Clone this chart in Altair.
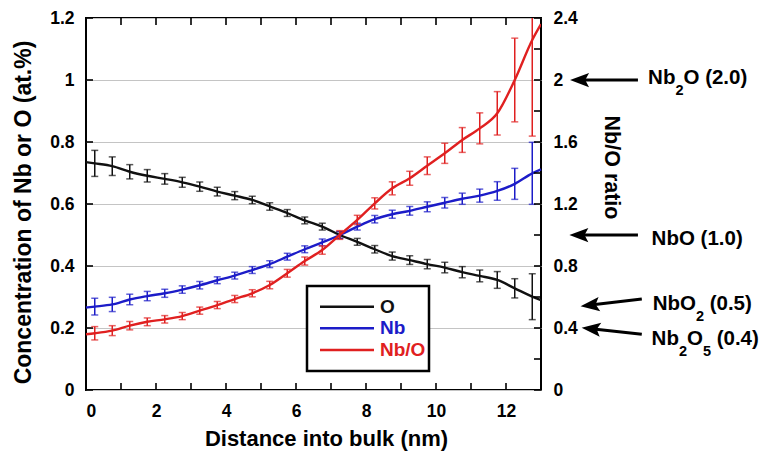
import math
import altair as alt
import pandas as pd

# ---------------- data ----------------
x_pts = [0.25, 0.75, 1.25, 1.75, 2.25, 2.75, 3.25, 3.75, 4.25, 4.75, 5.25, 5.75, 6.25,
         6.75, 7.25, 7.75, 8.25, 8.75, 9.25, 9.75, 10.25, 10.75, 11.25, 11.75, 12.25, 12.75]
o_val = [0.731, 0.722, 0.704, 0.691, 0.681, 0.670, 0.656, 0.640, 0.627, 0.613, 0.592, 0.571, 0.547,
         0.527, 0.500, 0.478, 0.454, 0.432, 0.419, 0.406, 0.395, 0.380, 0.368, 0.355, 0.328, 0.301]
o_err = [0.042, 0.030, 0.023, 0.020, 0.017, 0.016, 0.015, 0.014, 0.013, 0.012, 0.012, 0.011, 0.011,
         0.011, 0.011, 0.011, 0.012, 0.013, 0.014, 0.015, 0.017, 0.018, 0.019, 0.027, 0.031, 0.074]
nb_val = [0.269, 0.276, 0.292, 0.303, 0.312, 0.324, 0.338, 0.354, 0.369, 0.387, 0.406, 0.430, 0.454,
          0.476, 0.500, 0.527, 0.551, 0.567, 0.578, 0.591, 0.604, 0.617, 0.627, 0.642, 0.665, 0.699]
nb_err = [0.027, 0.023, 0.017, 0.015, 0.013, 0.012, 0.012, 0.011, 0.011, 0.011, 0.011, 0.011, 0.011,
          0.011, 0.011, 0.011, 0.012, 0.013, 0.014, 0.016, 0.017, 0.018, 0.021, 0.030, 0.050, 0.100]
ratio_val = [0.366, 0.383, 0.415, 0.440, 0.456, 0.477, 0.512, 0.548, 0.587, 0.624, 0.677, 0.753, 0.832,
             0.903, 1.000, 1.097, 1.204, 1.301, 1.366, 1.447, 1.527, 1.613, 1.688, 1.785, 2.000, 2.258]
ratio_err = [0.043, 0.032, 0.027, 0.025, 0.024, 0.023, 0.023, 0.023, 0.023, 0.023, 0.024, 0.025, 0.026,
             0.027, 0.028, 0.030, 0.036, 0.042, 0.045, 0.057, 0.065, 0.080, 0.100, 0.140, 0.270, 0.620]

# fitted curves run from the left edge to the right edge of the plot
x_edges = [0.0, 13.0]
o_edges = [0.735, 0.290]
nb_edges = [0.266, 0.712]
ratio_edges = [0.360, 2.360]

series_names = ["O", "Nb", "Nb/O"]
series_colors = ["#111111", "#1c1cc8", "#e02020"]

x_label_vals = [0, 2, 4, 6, 8, 10, 12]
x_tick_vals = list(range(0, 14))
left_label_vals = [0, 0.2, 0.4, 0.6, 0.8, 1.0, 1.2]
right_label_vals = [0, 0.4, 0.8, 1.2, 1.6, 2.0, 2.4]
right_tick_vals = [0, 0.2, 0.4, 0.6, 0.8, 1.0, 1.2, 1.4, 1.6, 1.8, 2.0, 2.2, 2.4]

# annotations (ratio values on the right axis)
ann_pieces = [
    [("Nb", 0, 0), ("2", 1, 0), ("O (2.0)", 0, 0)],
    [("NbO (1.0)", 0, 0)],
    [("NbO", 0, 0), ("2", 1, 0), ("(0.5)", 0, 1)],
    [("Nb", 0, 0), ("2", 1, 0), ("O", 0, 0), ("5", 1, 0), ("(0.4)", 0, 1)],
]
ann_x0 = [16.06, 16.16, 16.19, 16.16]
ann_base = [1.974, 0.935, 0.519, 0.290]
arrow_tip_x = [13.83, 13.81, 14.13, 14.16]
arrow_tip_y = [2.0, 1.0, 0.54, 0.402]
arrow_tail_x = [15.77, 15.77, 15.88, 15.88]
arrow_tail_y = [2.0, 1.0, 0.587, 0.359]

# ---------------- layout / style ----------------
W, H = 455, 372
PX_X = W / 13.0          # pixels per x unit
PX_R = H / 2.4           # pixels per ratio unit
FONT = "Liberation Sans"
MAIN_FS, SUB_FS = 20.5, 14.5
SUB_DROP = 11 / PX_R

xscale = alt.Scale(domain=[0, 13], nice=False, zero=False)
yL = alt.Scale(domain=[0, 1.2], nice=False)
yR = alt.Scale(domain=[0, 2.4], nice=False)

lab = dict(labelFont=FONT, labelFontSize=17.5, labelFontWeight="bold", labelColor="black",
           titleFont=FONT, titleFontWeight="bold", titleColor="black",
           ticks=False, tickSize=0, domain=False, labelPadding=12)

x_axis = alt.Axis(values=x_label_vals, format="~g", title="Distance into bulk (nm)", grid=False,
                  titleFontSize=22, titleX=240, titleY=48, titleBaseline="middle", **lab)
left_axis = alt.Axis(values=left_label_vals, format="~g", title="Concentration of Nb or O (at.%)",
                     grid=True, gridColor="#c4c4c4", gridWidth=1, orient="left",
                     titleFontSize=23, titleX=-63, titleY=194, titleBaseline="middle", **lab)
right_axis = alt.Axis(values=right_label_vals, format="~g", title="Nb/O ratio", orient="right",
                      grid=False, titleFontSize=21.5, titleX=69, titleY=149, titleBaseline="middle", **lab)


def X(field):
    return alt.X(field, type="quantitative", scale=xscale, axis=x_axis)


def YL(field):
    return alt.Y(field, type="quantitative", scale=yL, axis=left_axis)


def YR(field):
    return alt.Y(field, type="quantitative", scale=yR, axis=right_axis)


# ---------------- tables ----------------
rows_line, rows_pts = [], []
for name, vals, errs, edges in [("O", o_val, o_err, o_edges), ("Nb", nb_val, nb_err, nb_edges)]:
    xs = [x_edges[0]] + x_pts + [x_edges[1]]
    vs = [edges[0]] + vals + [edges[1]]
    for xv, v in zip(xs, vs):
        rows_line.append({"x": xv, "v": v, "s": name})
    for xv, v, e in zip(x_pts, vals, errs):
        rows_pts.append({"x": xv, "v": v, "lo": v - e, "hi": v + e, "s": name})
df_line_left = pd.DataFrame(rows_line)
df_pts_left = pd.DataFrame(rows_pts)

df_line_r = pd.DataFrame({"x": [x_edges[0]] + x_pts + [x_edges[1]],
                          "v": [ratio_edges[0]] + ratio_val + [ratio_edges[1]]})
df_pts_r = pd.DataFrame({"x": x_pts, "v": ratio_val,
                         "lo": [v - e for v, e in zip(ratio_val, ratio_err)],
                         "hi": [v + e for v, e in zip(ratio_val, ratio_err)]})

df_xt = pd.DataFrame({"x": x_tick_vals})
df_lt = pd.DataFrame({"v": left_label_vals})
df_rt = pd.DataFrame({"v": right_tick_vals})

# Arial-bold advance widths (em) for placing sub-scripts
adv = {"N": .722, "b": .611, "O": .778, " ": .278, "(": .333, ")": .333, ".": .278}


def width(txt, fs):
    return sum(adv.get(c, .556) for c in txt) * fs


ann_rows = []
for pieces, x0, base in zip(ann_pieces, ann_x0, ann_base):
    off = 0.0
    for txt, sub, space in pieces:
        fs = SUB_FS if sub else MAIN_FS
        if space:
            off += adv[" "] * MAIN_FS
        ann_rows.append({"x": x0 + off / PX_X, "v": base - (SUB_DROP if sub else 0), "text": txt, "size": fs})
        off += width(txt, fs)
df_ann = pd.DataFrame(ann_rows)

arrow_rows = []
for tx, ty, lx, ly in zip(arrow_tip_x, arrow_tip_y, arrow_tail_x, arrow_tail_y):
    dxp = (tx - lx) * PX_X
    dyp = -(ty - ly) * PX_R
    ang = math.degrees(math.atan2(-dyp, -dxp)) % 360
    arrow_rows.append({"x": tx, "v": ty, "sx": tx + 0.2 * (lx - tx), "sv": ty + 0.2 * (ly - ty),
                       "lx": lx, "lv": ly, "ang": ang})
df_arrow = pd.DataFrame(arrow_rows)

legend_y = [288.7, 310.3, 332.0]
df_leg = pd.DataFrame({"label": series_names, "color": series_colors, "ly": legend_y})
df_box = pd.DataFrame({"k": [0]})

# ---------------- left (concentration) layers ----------------
cL = alt.Color("s:N", scale=alt.Scale(domain=series_names[:2], range=series_colors[:2]), legend=None)

line_left = alt.Chart(df_line_left).mark_line(strokeWidth=2.4, interpolate="monotone").encode(
    x=X("x"), y=YL("v"), color=cL)
err_left = alt.Chart(df_pts_left).mark_rule(strokeWidth=1.5).encode(
    x=X("x"), y=YL("lo"), y2="hi:Q", color=cL)
caps_left = alt.Chart(df_pts_left).transform_fold(["lo", "hi"], as_=["k", "e"]).mark_tick(
    orient="horizontal", size=7, thickness=1.5).encode(
    x=X("x"), y=YL("e"), color=cL)
xt_bottom = alt.Chart(df_xt).mark_rule(color="black", strokeWidth=1.6).encode(
    x=X("x"), y=alt.value(H), y2=alt.value(H - 7))
xt_top = alt.Chart(df_xt).mark_rule(color="black", strokeWidth=1.6).encode(
    x=X("x"), y=alt.value(0), y2=alt.value(7))
yt_left = alt.Chart(df_lt).mark_rule(color="black", strokeWidth=1.6).encode(
    y=YL("v"), x=alt.value(0), x2=alt.value(7))

left = alt.layer(line_left, err_left, caps_left, xt_bottom, xt_top, yt_left)

# ---------------- right (ratio) layers ----------------
red = series_colors[2]
line_r = alt.Chart(df_line_r).mark_line(strokeWidth=2.4, interpolate="monotone", color=red, clip=True).encode(
    x=X("x"), y=YR("v"))
err_r = alt.Chart(df_pts_r).mark_rule(strokeWidth=1.5, color=red, clip=True).encode(
    x=X("x"), y=YR("lo"), y2="hi:Q")
caps_r = alt.Chart(df_pts_r).transform_fold(["lo", "hi"], as_=["k", "e"]).mark_tick(
    orient="horizontal", size=7, thickness=1.5, color=red, clip=True).encode(
    x=X("x"), y=YR("e"))
yt_right = alt.Chart(df_rt).mark_rule(color="black", strokeWidth=1.6).encode(
    y=YR("v"), x=alt.value(W), x2=alt.value(W - 7))
ann_text = alt.Chart(df_ann).mark_text(align="left", baseline="alphabetic", font=FONT,
                                       fontWeight="bold", color="black").encode(
    x=X("x"), y=YR("v"), text="text:N", size=alt.Size("size:Q", scale=None))
arrow_shaft = alt.Chart(df_arrow).mark_rule(color="black", strokeWidth=3).encode(
    x=X("sx"), x2="lx:Q", y=YR("sv"), y2="lv:Q")
arrow_head = alt.Chart(df_arrow).mark_point(
    shape="M0,0L2,-0.75L1.6,0L2,0.75Z", filled=True, size=361, color="black", opacity=1).encode(
    x=X("x"), y=YR("v"), angle=alt.Angle("ang:Q", scale=None))

right = alt.layer(yt_right, err_r, caps_r, line_r, ann_text, arrow_shaft, arrow_head)

# ---------------- legend ----------------
leg_box = alt.Chart(df_box).mark_rect(fill="white", stroke="black", strokeWidth=2.5).encode(
    x=alt.value(221), x2=alt.value(343), y=alt.value(268), y2=alt.value(353))
leg_lines = alt.Chart(df_leg).mark_rule(strokeWidth=2.4).encode(
    x=alt.value(234), x2=alt.value(288), y=alt.Y("ly:Q", scale=None),
    color=alt.Color("color:N", scale=None))
leg_text = alt.Chart(df_leg).mark_text(align="left", baseline="middle", font=FONT,
                                       fontWeight="bold", fontSize=19).encode(
    x=alt.value(294), y=alt.Y("ly:Q", scale=None), text="label:N",
    color=alt.Color("color:N", scale=None))
legend = alt.layer(leg_box, leg_lines, leg_text)

chart = alt.layer(left, right, legend).resolve_scale(
    y="independent", color="independent"
).properties(
    width=W, height=H,
    autosize=alt.AutoSizeParams(type="none"),
    padding={"left": 86, "top": 18, "right": 230, "bottom": 61},
    background="white",
).configure_view(stroke="black", strokeWidth=2)

chart.save("out.html", embed_options={"renderer": "svg", "actions": False})
